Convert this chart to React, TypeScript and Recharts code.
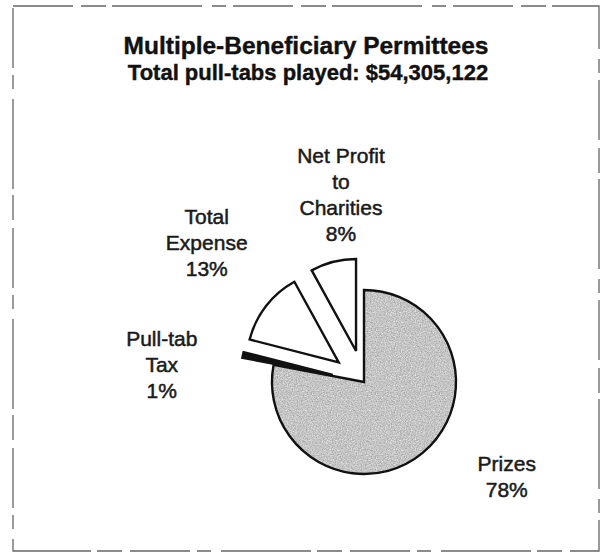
import React from "react";
import { PieChart, Pie, Cell, Sector } from "recharts";

// slices, clockwise from 12 o'clock
const categories = ["Prizes", "Pull-tab Tax", "Total Expense", "Net Profit to Charities"];
const shares = [78, 1, 13, 8];
const labelLines = [
    ["Prizes", "78%"],
    ["Pull-tab", "Tax", "1%"],
    ["Total", "Expense", "13%"],
    ["Net Profit", "to", "Charities", "8%"],
];
const titleText = "Multiple-Beneficiary Permittees";
const subtitleText = "Total pull-tabs played: $54,305,122";

// looks
const sliceFills = ["url(#stipple)", "#111111", "#ffffff", "#ffffff"];
const explodeBy = [0, 32, 32, 32];
const labelRadius = [171, 203, 210, 189];
const labelShift = [17, 7.6, -3.7, -7.4];

const RAD = Math.PI / 180;
const font = "'Liberation Sans', Arial, Helvetica, sans-serif";

const data = categories.map((name, i) => ({ name, value: shares[i] }));

const renderSlice = (props: any) => {
    const idx = categories.indexOf(props.name ?? props.payload?.name);
    const off = explodeBy[idx] ?? 0;
    const a = props.midAngle * RAD;
    return (
        <Sector
            cx={props.cx + off * Math.cos(a)}
            cy={props.cy - off * Math.sin(a)}
            innerRadius={props.innerRadius}
            outerRadius={props.outerRadius}
            startAngle={props.startAngle}
            endAngle={props.endAngle}
            fill={props.fill}
            stroke="#111"
            strokeWidth={2.4}
            strokeLinejoin="miter"
        />
    );
};

const renderLabel = (props: any) => {
    const { cx, cy, midAngle, index } = props;
    const a = (midAngle + labelShift[index]) * RAD;
    const x = cx + labelRadius[index] * Math.cos(a);
    const y = cy - labelRadius[index] * Math.sin(a);
    const lines = labelLines[index];
    const lh = 26;
    const fs = 21;
    const y0 = y - ((lines.length - 1) * lh) / 2 + fs * 0.36;
    return (
        <text x={x} y={y0} textAnchor="middle" fontFamily={font} fontSize={fs} fill="#1a1a1a"
            stroke="#1a1a1a" strokeWidth={0.5}>
            {lines.map((l, i) => (
                <tspan key={i} x={x} y={y0 + i * lh}>{l}</tspan>
            ))}
        </text>
    );
};

const App = () => {
    return (
        <div style={{ position: "absolute", left: 0, top: 0, width: 605, height: 555, background: "#fff" }}>
            <svg width={605} height={555} style={{ position: "absolute", left: 0, top: 0 }}>
                <defs>
                    <filter id="grain" x="0" y="0" width="100%" height="100%" colorInterpolationFilters="sRGB">
                        <feTurbulence type="fractalNoise" baseFrequency="0.8" numOctaves={2} stitchTiles="stitch" />
                        <feColorMatrix type="matrix"
                            values="0.4 0 0 0 0.57  0.4 0 0 0 0.57  0.4 0 0 0 0.57  0 0 0 0 1" />
                    </filter>
                    <pattern id="stipple" width={64} height={64} patternUnits="userSpaceOnUse">
                        <rect width={64} height={64} fill="#c6c6c6" filter="url(#grain)" />
                    </pattern>
                </defs>
                <rect x={13} y={6} width={586} height={545} fill="none" stroke="#666" strokeWidth={1.3}
                    strokeDasharray="60 8 25 6 90 10 14 7" />
                <text x={306} y={54} textAnchor="middle" fontFamily={font} fontWeight="bold" fontSize={24.5}
                    fill="#111" stroke="#111" strokeWidth={0.4}>
                    {titleText}
                </text>
                <text x={308} y={80} textAnchor="middle" fontFamily={font} fontWeight="bold" fontSize={22}
                    fill="#111" stroke="#111" strokeWidth={0.4}>
                    {subtitleText}
                </text>
            </svg>
            <div style={{ position: "absolute", left: 0, top: 0 }}>
                <PieChart width={605} height={555} margin={{ top: 0, right: 0, bottom: 0, left: 0 }}>
                    <Pie
                        data={data}
                        dataKey="value"
                        nameKey="name"
                        cx={364}
                        cy={382}
                        outerRadius={92}
                        startAngle={90}
                        endAngle={-270}
                        stroke="#111"
                        strokeWidth={2.4}
                        shape={renderSlice}
                        label={renderLabel}
                        labelLine={false}
                        isAnimationActive={false}
                    >
                        {data.map((d, i) => (
                            <Cell key={d.name} fill={sliceFills[i]} />
                        ))}
                    </Pie>
                </PieChart>
            </div>
        </div>
    );
};

export default App;
